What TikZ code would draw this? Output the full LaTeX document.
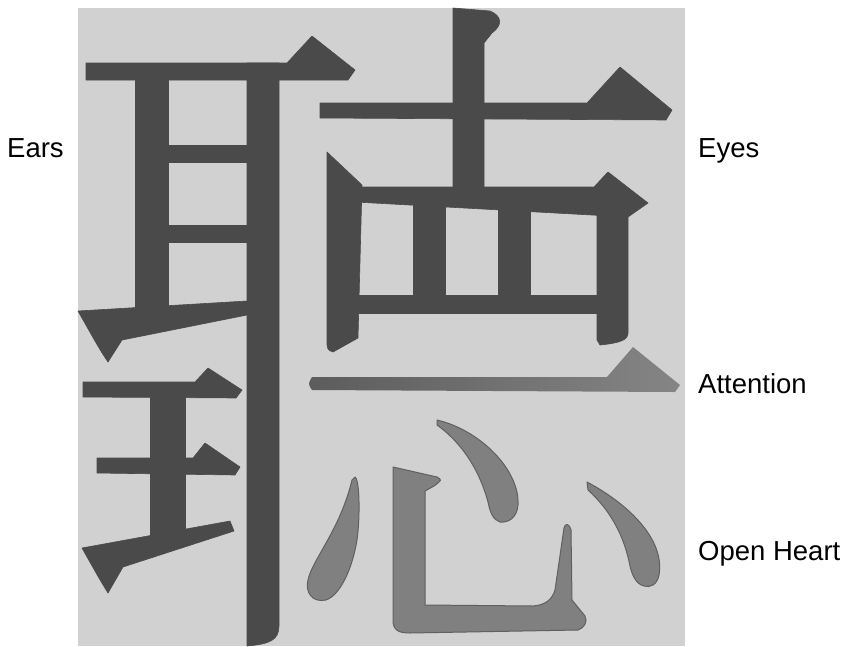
\documentclass[tikz,border=0pt]{standalone}
\usepackage{fontspec}
\setmainfont{Liberation Sans}
\definecolor{paper}{HTML}{D1D1D1}
\definecolor{inkdark}{HTML}{4A4A4A}
\definecolor{inkheart}{HTML}{808080}
\definecolor{inkrim}{HTML}{606060}
\definecolor{inkfade}{HTML}{858585}
\tikzset{
  brush/.style={fill=inkdark, draw=inkdark, line width=0.6pt, line join=round},
  softbrush/.style={fill=inkheart, draw=inkrim, line width=1pt, line join=round},
  caption/.style={font=\fontsize{27.5}{33}\selectfont, inner sep=0pt, anchor=base west}
}
\begin{document}
\begin{tikzpicture}[x=1pt, y=-1pt, line cap=round]
  \useasboundingbox (0,0) rectangle (859,646);
  \fill[paper] (78,8) rectangle (685,646);

  % ear
  \draw[brush] (86,63) -- (287,63) -- (312,36) -- (355,70) -- (348,80) -- (86,80) -- cycle;
  \draw[brush] (135,80) rectangle (168,315);
  \foreach \y in {145,225} { \draw[brush] (168,\y) rectangle (247,\y+17); }
  \draw[brush] (247,63) -- (279,63) -- (279,626) .. controls (279,640) and (270,644) .. (247,646) -- cycle;
  \draw[brush] (78,311) -- (247,301) -- (247,315) -- (122,340) -- (108,362) .. controls (100,350) .. (78,311) -- cycle;

  % king
  \draw[brush] (83,382) -- (195,382) -- (208,368) -- (242,390) -- (236,398) -- (83,397) -- cycle;
  \draw[brush] (150,397) rectangle (185,535);
  \draw[brush] (97,458) -- (193,458) -- (205,443) -- (240,467) -- (235,475) -- (97,473) -- cycle;
  \draw[brush] (82,548) -- (230,521) -- (234,531) -- (123,567) -- (108,593) .. controls (100,580) .. (82,548) -- cycle;

  % ten and eye
  \draw[brush] (453,8) -- (490,11) .. controls (502,16) and (503,25) .. (492,33) -- (484,43) -- (484,190) -- (453,190) -- cycle;
  \draw[brush] (320,103) -- (587,103) -- (620,67) -- (672,110) -- (666,120) -- (320,118) -- cycle;
  \draw[brush] (327,152) -- (362,185) -- (358,338) -- (333,352) .. controls (328,350) .. (327,345) -- cycle;
  \draw[brush] (355,187) -- (594,187) -- (608,172) -- (648,203) -- (628,217) -- (355,202) -- cycle;
  \draw[brush] (597,195) -- (628,195) -- (628,333) .. controls (628,340) and (620,343) .. (600,345) -- (597,340) -- cycle;
  \foreach \x in {413,498} { \draw[brush] (\x,195) rectangle (\x+32,300); }
  \draw[brush] (355,295) rectangle (597,313);

  % one
  \shade[left color=inkdark!90!white, right color=inkfade]
    (312,377) -- (607,377) -- (633,347) -- (680,385) -- (675,392) -- (312,390) .. controls (308,384) .. (312,377) -- cycle;

  % heart
  \draw[softbrush] (355,477) .. controls (360,480) and (360,520) .. (357,540)
    .. controls (352,570) and (340,595) .. (326,600) .. controls (312,603) and (305,592) .. (308,580)
    .. controls (312,560) and (340,530) .. (352,480) -- cycle;
  \draw[softbrush] (393,467) -- (393,620) .. controls (393,630) and (398,633) .. (410,633)
    -- (578,630) .. controls (584,628) and (588,622) .. (585,616) -- (572,600) -- (571,530)
    .. controls (569,523) and (565,523) .. (564,528) -- (555,590) .. controls (552,600) and (545,605) .. (533,606)
    -- (425,605) -- (425,491) -- (434,486) .. controls (442,480) .. (437,477) -- cycle;
  \draw[softbrush] (437,420) .. controls (480,430) and (520,470) .. (518,505)
    .. controls (517,518) and (508,523) .. (500,522) .. controls (493,520) and (490,512) .. (488,502)
    .. controls (478,465) and (458,440) .. (437,425) -- cycle;
  \draw[softbrush] (587,482) .. controls (630,505) and (665,540) .. (659,575)
    .. controls (657,585) and (650,588) .. (644,586) .. controls (636,584) and (632,575) .. (630,566)
    .. controls (624,535) and (610,510) .. (588,490) -- cycle;

  \node[caption] (ears) at (7,157) {Ears};
  \node[caption] (eyes) at (698,157) {Eyes};
  \node[caption] (attention) at (698,393) {Attention};
  \node[caption] (heart) at (698,560) {Open Heart};
\end{tikzpicture}
\end{document}
